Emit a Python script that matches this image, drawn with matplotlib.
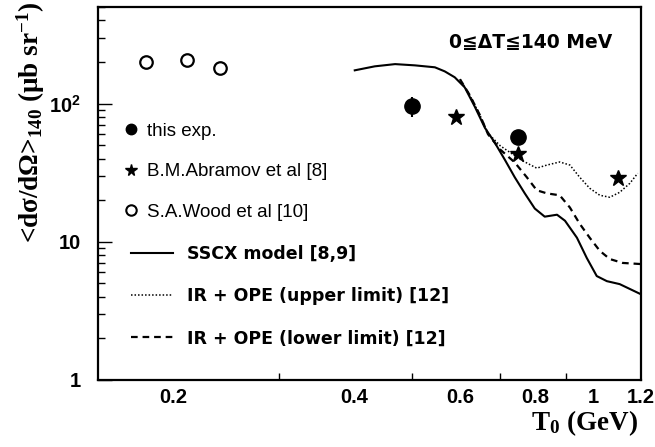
import matplotlib
matplotlib.use('Agg')
import matplotlib.pyplot as plt
from matplotlib.lines import Line2D

plt.rcParams['mathtext.fontset'] = 'custom'
plt.rcParams['mathtext.rm'] = 'Liberation Serif:bold'
plt.rcParams['mathtext.it'] = 'Liberation Serif:bold'
plt.rcParams['mathtext.bf'] = 'Liberation Serif:bold'
plt.rcParams['mathtext.sf'] = 'Liberation Sans:bold'

# data
wood_T = [0.180, 0.211, 0.239]
wood_v = [199, 206, 180]

exp_T = [0.50, 0.75]
exp_v = [96, 57]
exp_err = [16, 4]

abr_T = [0.59, 0.75, 1.10]
abr_v = [80, 43, 28.8]

sscx_T = [0.401, 0.433, 0.468, 0.505, 0.545, 0.566, 0.588, 0.611, 0.635, 0.660,
          0.686, 0.713, 0.740, 0.769, 0.799, 0.830, 0.870, 0.897, 0.939, 0.975,
          1.013, 1.053, 1.106, 1.200]
sscx_v = [174, 186, 193, 189, 183, 171, 155, 131, 95, 66.8,
          51.9, 39.0, 29.3, 22.4, 17.4, 15.2, 15.7, 14.2, 10.7, 7.64,
          5.65, 5.19, 4.94, 4.17]

lower_T = [0.600, 0.623, 0.648, 0.668, 0.700, 0.740, 0.775, 0.805, 0.837, 0.879,
           0.914, 0.949, 0.986, 1.025, 1.065, 1.119, 1.200]
lower_v = [150, 115, 82, 60, 46.5, 37.5, 29.3, 23.6, 22.4, 21.7,
           17.7, 13.5, 10.7, 8.6, 7.5, 7.03, 6.9]

upper_T = [0.600, 0.623, 0.648, 0.668, 0.700, 0.740, 0.763, 0.805, 0.837, 0.879, 0.914,
           0.949, 0.986, 1.025, 1.065, 1.106, 1.150, 1.185]
upper_v = [150, 115, 82, 61, 49.5, 42, 38.5, 34.1, 35.9, 37.8, 35.9,
           29.3, 24.4, 21.7, 21.0, 22.8, 26.5, 31.3]

xlabels = ['0.2', '0.4', '0.6', '0.8', '1', '1.2']
xlabel_pos = [0.2, 0.4, 0.6, 0.8, 1.0, 1.2]
xtick_marks = [0.2, 0.3, 0.5, 0.7, 0.9]

dotted = (0, (1, 1.3))
dashed = (0, (3, 2.2))

fig = plt.figure(figsize=(6.55, 4.47), dpi=100)
ax = fig.add_axes([0.1496, 0.1499, 0.829, 0.8345])
ax.set_xscale('log')
ax.set_yscale('log')
ax.set_xlim(0.15, 1.2)
ax.set_ylim(1, 500)

ax.plot(sscx_T, sscx_v, color='k', lw=1.5)
ax.plot(upper_T, upper_v, color='k', lw=1.1, ls=dotted)
ax.plot(lower_T, lower_v, color='k', lw=1.6, ls=dashed)

ax.errorbar(exp_T, exp_v, yerr=exp_err, fmt='o', color='k', ms=11,
            elinewidth=1.5, capsize=0)
ax.plot(abr_T, abr_v, '*', color='k', ms=12, ls='none')
ax.plot(wood_T, wood_v, 'o', mfc='white', mec='k', mew=1.6, ms=9, ls='none')

# axes styling
for s in ax.spines.values():
    s.set_linewidth(1.6)
ax.set_xticks(xlabel_pos)
ax.set_xticklabels(xlabels, fontfamily='Liberation Sans', fontweight='bold', fontsize=14.5)
ax.set_xticks(xtick_marks, minor=True)
ax.xaxis.set_minor_formatter(matplotlib.ticker.NullFormatter())
ax.tick_params(axis='x', which='major', length=0, pad=6)
ax.tick_params(axis='x', which='minor', direction='in', length=5, width=1)

ax.set_yticks([1, 10, 100])
ax.set_yticklabels(['1', '10', r'$\mathsf{10^{2}}$'], fontfamily='Liberation Sans',
                   fontweight='bold', fontsize=14.5)
ax.tick_params(axis='y', which='major', direction='in', length=10, width=1, pad=12)
ax.tick_params(axis='y', which='minor', direction='in', length=5, width=1)
ax.yaxis.set_minor_formatter(matplotlib.ticker.NullFormatter())

ax.set_ylabel(r'<d$\sigma$/d$\Omega$>$_{140}$ ($\mu$b sr$^{-1}$)',
              fontfamily='Liberation Serif', fontweight='bold', fontsize=19.5)
ax.yaxis.set_label_coords(-0.094, 0.69)
ax.set_xlabel(r'T$_0$ (GeV)', fontfamily='Liberation Serif', fontweight='bold', fontsize=19.5)
ax.xaxis.set_label_coords(0.895, -0.075)

ax.text(0.797, 0.905, '0≦ΔT≦140 MeV', transform=ax.transAxes, ha='center', va='center',
        fontfamily=['DejaVu Sans'], fontweight='bold', fontsize=13.5)

# legends
mk_handles = [
    Line2D([], [], marker='o', ls='none', color='k', ms=7.5),
    Line2D([], [], marker='*', ls='none', color='k', ms=8.5),
    Line2D([], [], marker='o', ls='none', mfc='white', mec='k', mew=1.5, ms=7.5),
]
mk_labels = ['this exp.', 'B.M.Abramov et al [8]', 'S.A.Wood et al [10]']
leg1 = ax.legend(mk_handles, mk_labels, loc='center left', bbox_to_anchor=(0.047, 0.558),
                 frameon=False, borderpad=0, borderaxespad=0, handlelength=0.8,
                 handletextpad=0.45, labelspacing=1.24,
                 prop={'family': 'Liberation Sans', 'size': 13.5})
ax.add_artist(leg1)

ln_handles = [
    Line2D([], [], color='k', lw=1.5),
    Line2D([], [], color='k', lw=1.1, ls=dotted),
    Line2D([], [], color='k', lw=1.6, ls=dashed),
]
ln_labels = ['SSCX model [8,9]', 'IR + OPE (upper limit) [12]', 'IR + OPE (lower limit) [12]']
ax.legend(ln_handles, ln_labels, loc='center left', bbox_to_anchor=(0.061, 0.225),
          frameon=False, borderpad=0, borderaxespad=0, handlelength=2.41,
          handletextpad=0.8, labelspacing=1.4,
          prop={'family': 'DejaVu Sans', 'weight': 'bold', 'size': 12.5})

fig.savefig('out.png', dpi=100)
